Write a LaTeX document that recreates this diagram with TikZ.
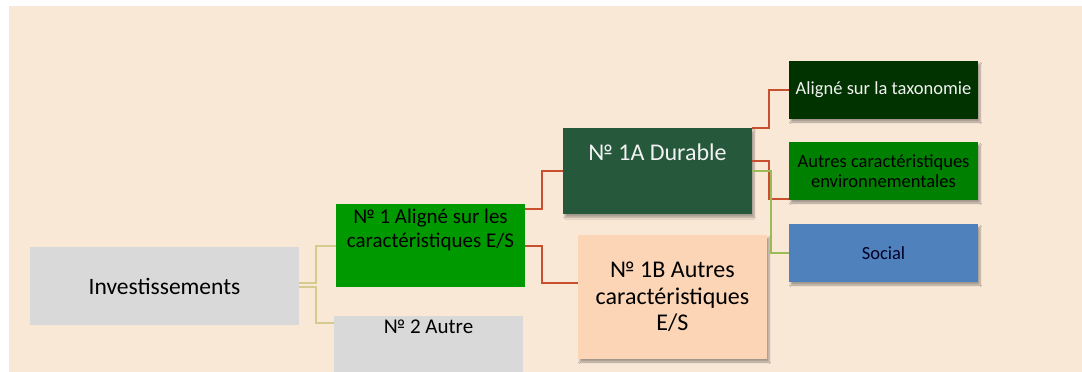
\documentclass[tikz,border=0pt]{standalone}
\usepackage{fontspec}
\setmainfont{Carlito}
\usetikzlibrary{shadows.blur}
\definecolor{bgpeach}{HTML}{FAE8D7}
\definecolor{boxgray}{HTML}{D9D9D9}
\definecolor{boxgreen}{HTML}{009900}
\definecolor{durgreen}{HTML}{26583B}
\definecolor{boxpeach}{HTML}{FBD5B5}
\definecolor{taxgreen}{HTML}{003300}
\definecolor{envgreen}{HTML}{008000}
\definecolor{socblue}{HTML}{4F81BD}
\definecolor{linered}{HTML}{C8502E}
\definecolor{linekhaki}{HTML}{D6CB8E}
\definecolor{linegreen}{HTML}{9BBB59}
\newcommand{\toppad}[1]{\rule{0pt}{#1}}
\newcommand{\botpad}[1]{\rule[-#1]{0pt}{0pt}}

\begin{document}
\begin{tikzpicture}[x=1pt,y=-1pt]
    \tikzset{block/.style={rectangle, align=center, inner ysep=0pt, minimum width=189pt},
      shblock/.style={block, blur shadow={shadow xshift=2pt, shadow yshift=-3pt, shadow blur steps=6, shadow opacity=35}},
      kline/.style={draw=linekhaki, line width=2pt},
      rline/.style={draw=linered, line width=2pt},
      vline/.style={draw=linegreen, line width=2pt},
    }
    \useasboundingbox (0,0) rectangle (1082,372);
    \fill[bgpeach] (9,6) rectangle (1082,372);

    \node[block, fill=boxgray, minimum width=269pt, minimum height=78pt, font=\fontsize{23.5}{28}\selectfont] at (164.5,286) (inv) {Investissements};
    \node[block, fill=boxgreen, anchor=north, font=\fontsize{21}{24}\selectfont] at (430.5,204) (no1) {\toppad{19pt}№ 1 Aligné sur les\\ caractéristiques E/S\botpad{40pt}};
    \node[block, fill=boxgray, anchor=north, font=\fontsize{21}{24}\selectfont] at (428.5,316) (no2) {\toppad{17pt}№ 2 Autre\botpad{50pt}};

    \node[shblock, fill=durgreen, text=white!95!black, anchor=north, font=\fontsize{24}{28}\selectfont] at (657.5,128) (dur) {\toppad{32pt}№ 1A Durable\botpad{54pt}};
    \node[shblock, fill=boxpeach, minimum height=124pt, font=\fontsize{24}{26.5}\selectfont] at (672.5,297) (oth) {№ 1B Autres\\ caractéristiques\\ E/S};

    \node[shblock, fill=taxgreen, text=white!95!black, minimum height=58pt, font=\fontsize{18.5}{20.5}\selectfont] at (883.5,90) (tax) {Aligné sur la taxonomie};
    \node[shblock, fill=envgreen, minimum height=58pt, font=\fontsize{18.5}{20.5}\selectfont] at (883.5,171) (env) {Autres caractéristiques\\ environnementales};
    \node[shblock, fill=socblue, text=black!85!blue, minimum height=58pt, font=\fontsize{18.5}{20.5}\selectfont] at (883.5,253) (soc) {Social};

    \path[kline] ([yshift=3pt]inv.east) -- ++(17,0) |- (no1.west);
    \path[kline] ([yshift=-1pt]inv.east) -- ++(17,0) |- ([yshift=-7pt]no2.north west);
    \path[rline] ([yshift=-5pt]no1.north east) -- ++(17,0) |- (dur.west);
    \path[rline] (no1.east) -- ++(17,0) |- ([yshift=14pt]oth.west);
    \path[rline] (dur.north east) -- ++(17,0) |- (tax.west);
    \path[rline] ([yshift=10pt]dur.east) -- ++(17,0) |- ([yshift=1pt]env.south west);
    \path[vline] (dur.east) -- ++(19,0) |- (soc.west);
  \end{tikzpicture}
\end{document}
